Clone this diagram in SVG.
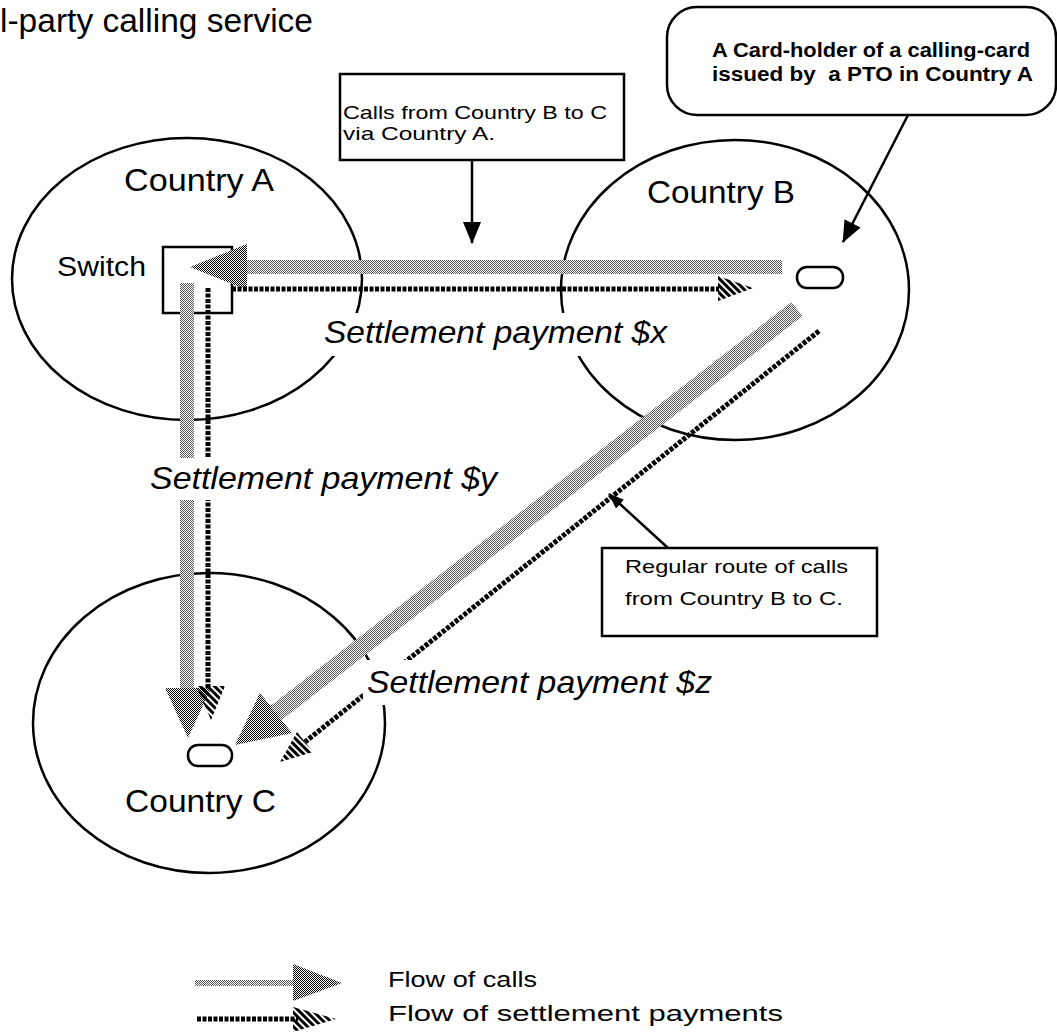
<svg xmlns="http://www.w3.org/2000/svg" width="1057" height="1035" viewBox="0 0 1057 1035">
<style>
  text { font-family: "Liberation Sans", Arial, Helvetica, sans-serif; fill: #000; }
  .title { font-size: 33px; }
  .country { font-size: 31px; }
  .switch { font-size: 27px; }
  .label { font-size: 32px; font-style: italic; }
  .note { font-size: 19px; }
  .note2 { font-size: 21px; font-weight: bold; }
  .legend { font-size: 22px; }
  .outline { fill: none; stroke: #000; stroke-width: 2.5; }
  .box { fill: #fff; stroke: #000; stroke-width: 2.5; }
  .mask { fill: #fff; stroke: none; }
  .call { fill: none; stroke: url(#dither); stroke-linecap: butt; }
  .callhead { fill: url(#ditherDark); stroke: none; }
  .pay { fill: none; stroke: #000; stroke-width: 5; stroke-dasharray: 4 1.5; }
  .payhead { fill: url(#stripes); stroke: none; }
  .pointer { fill: none; stroke: #000; stroke-width: 2.5; }
</style>
<defs>
  <pattern id="dither" width="2" height="2" patternUnits="userSpaceOnUse">
    <rect width="2" height="2" fill="#fff"/>
    <rect x="0" y="0" width="1" height="1" fill="#555"/>
    <rect x="1" y="1" width="1" height="1" fill="#555"/>
  </pattern>
  <pattern id="ditherDark" width="2" height="2" patternUnits="userSpaceOnUse">
    <rect width="2" height="2" fill="#fff"/>
    <rect x="0" y="0" width="1" height="1" fill="#000"/>
    <rect x="1" y="1" width="1" height="1" fill="#000"/>
  </pattern>
  <pattern id="stripes" width="5" height="5" patternUnits="userSpaceOnUse" patternTransform="rotate(-45)">
    <rect width="3" height="5" fill="#000"/>
  </pattern>
  <marker id="tip" markerUnits="userSpaceOnUse" markerWidth="22" markerHeight="18" viewBox="0 0 22 18" refX="21" refY="9" orient="auto">
    <path d="M0,0 L22,9 L0,18 z" fill="#000"/>
  </marker>
  <marker id="tipS" markerUnits="userSpaceOnUse" markerWidth="16" markerHeight="12" viewBox="0 0 16 12" refX="15" refY="6" orient="auto">
    <path d="M0,0 L16,6 L0,12 z" fill="#000"/>
  </marker>
</defs>

<rect width="1057" height="1035" fill="#fff"/>

<text id="title" class="title" x="0" y="32" textLength="313" lengthAdjust="spacingAndGlyphs">l-party calling service</text>

<g id="node-country-a">
  <ellipse class="outline" cx="187" cy="279" rx="175" ry="141"/>
  <text class="country" x="124" y="191" textLength="150" lengthAdjust="spacingAndGlyphs">Country A</text>
</g>
<g id="node-country-b">
  <ellipse class="outline" cx="735" cy="290" rx="174" ry="150"/>
  <text class="country" x="647" y="203" textLength="148" lengthAdjust="spacingAndGlyphs">Country B</text>
</g>
<g id="node-country-c">
  <ellipse class="outline" cx="209" cy="723" rx="176" ry="150"/>
  <text class="country" x="125" y="812" textLength="151" lengthAdjust="spacingAndGlyphs">Country C</text>
</g>
<g id="node-switch">
  <rect class="box" x="163" y="247" width="69" height="66"/>
  <text class="switch" x="57" y="276" textLength="89" lengthAdjust="spacingAndGlyphs">Switch</text>
</g>

<g id="connectors">
  <!-- calls B to A -->
  <line class="call" x1="782" y1="267" x2="246" y2="267" stroke-width="14"/>
  <polygon class="callhead" points="247,244 190,267 247,290"/>
  <!-- settlement A to B -->
  <line class="pay" x1="232" y1="289" x2="719" y2="289"/>
  <polygon class="payhead" points="718,276 753,288 718,301"/>
  <!-- calls A to C -->
  <line class="call" x1="187" y1="283" x2="187" y2="690" stroke-width="14"/>
  <polygon class="callhead" points="165,688 188,738 211,688"/>
  <!-- settlement A to C -->
  <line class="pay" x1="208" y1="288" x2="208" y2="688" stroke-width="4.5" stroke-dasharray="5 2"/>
  <polygon class="payhead" points="196,686 211,720 225,686"/>
  <!-- calls B to C (regular route) -->
  <line class="call" x1="797" y1="309" x2="276" y2="713" stroke-width="18"/>
  <polygon class="callhead" points="292,733 235,745 260,693"/>
  <!-- settlement B to C -->
  <line class="pay" x1="819" y1="331" x2="305" y2="742"/>
  <polygon class="payhead" points="313,752 280,762 297,732"/>
</g>

<g id="edge-labels">
  <rect class="mask" x="320" y="313" width="352" height="43"/>
  <text class="label" x="324" y="343" textLength="343" lengthAdjust="spacingAndGlyphs">Settlement payment $x</text>
  <rect class="mask" x="146" y="458" width="355" height="42"/>
  <text class="label" x="150" y="489" textLength="347" lengthAdjust="spacingAndGlyphs">Settlement payment $y</text>
  <rect class="mask" x="363" y="660" width="353" height="45"/>
  <text class="label" x="367" y="693" textLength="345" lengthAdjust="spacingAndGlyphs">Settlement payment $z</text>
</g>

<g id="node-terminal-b">
  <rect class="box" x="797" y="267" width="46" height="21" rx="10"/>
</g>
<g id="node-terminal-c">
  <rect class="box" x="188" y="745" width="44" height="21" rx="10"/>
</g>

<g id="node-note-via-a">
  <rect class="box" x="340" y="74" width="284" height="86"/>
  <text class="note" x="343" y="119" textLength="264" lengthAdjust="spacingAndGlyphs">Calls from Country B to C</text>
  <text class="note" x="343" y="140" textLength="152" lengthAdjust="spacingAndGlyphs">via Country A.</text>
</g>
<g id="node-note-cardholder">
  <rect class="box" x="667" y="7" width="389" height="108" rx="30"/>
  <text class="note2" x="712" y="57" textLength="318" lengthAdjust="spacingAndGlyphs">A Card-holder of a calling-card</text>
  <text class="note2" x="712" y="81" textLength="321" lengthAdjust="spacingAndGlyphs" xml:space="preserve">issued by  a PTO in Country A</text>
</g>
<g id="node-note-regular">
  <rect class="box" x="602" y="548" width="275" height="88"/>
  <text class="note" x="625" y="573" textLength="223" lengthAdjust="spacingAndGlyphs">Regular route of calls</text>
  <text class="note" x="625" y="605" textLength="218" lengthAdjust="spacingAndGlyphs">from Country B to C.</text>
</g>

<g id="pointers">
  <line class="pointer" x1="472" y1="160" x2="472" y2="243" marker-end="url(#tip)"/>
  <line class="pointer" x1="908" y1="115" x2="843" y2="242" marker-end="url(#tip)"/>
  <line class="pointer" x1="668" y1="548" x2="609" y2="494" marker-end="url(#tipS)"/>
</g>

<g id="legend">
  <line class="call" x1="195" y1="983" x2="296" y2="983" stroke-width="6"/>
  <polygon class="callhead" points="293,964 342,983 293,1001"/>
  <text class="legend" x="388" y="987" textLength="149" lengthAdjust="spacingAndGlyphs">Flow of calls</text>
  <line class="pay" x1="197" y1="1019" x2="298" y2="1019"/>
  <polygon class="payhead" points="293,1007 336,1019 293,1032"/>
  <text class="legend" x="388" y="1021" textLength="395" lengthAdjust="spacingAndGlyphs">Flow of settlement payments</text>
</g>
</svg>
